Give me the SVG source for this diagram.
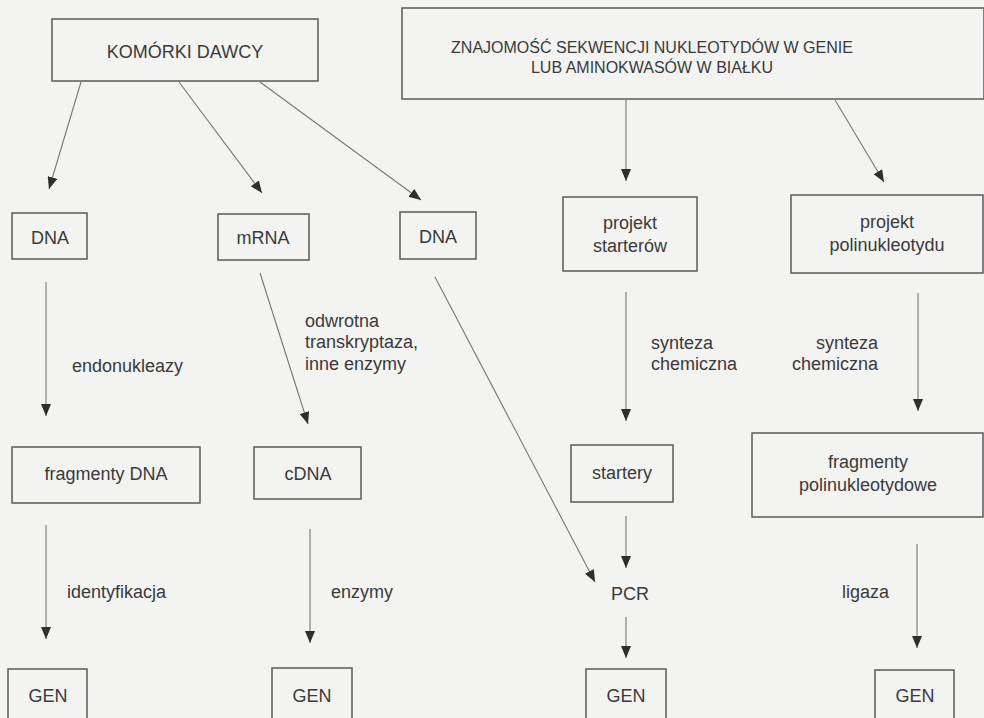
<svg xmlns="http://www.w3.org/2000/svg" width="984" height="718" viewBox="0 0 984 718">
<style>
.bg{fill:#f3f3f1}
.box{fill:none;stroke:#5a5a5a;stroke-width:1.5}
.t{font-family:"Liberation Sans",Arial,sans-serif;font-size:18px;fill:#3a3a3a}
.s16{font-size:16px}
.c{text-anchor:middle}
.e{text-anchor:end}
.ln{stroke:#777;stroke-width:1.1;fill:none;marker-end:url(#ah)}
</style>
<defs>
<marker id="ah" markerUnits="userSpaceOnUse" markerWidth="12" markerHeight="10" refX="12" refY="5" orient="auto">
<path d="M0,0 L12,5 L0,10 z" fill="#2e2e2e"/>
</marker>
</defs>
<rect class="bg" x="0" y="0" width="984" height="718"/>
<g id="connectors">
<line class="ln" x1="81" y1="82" x2="49" y2="189"/>
<line class="ln" x1="179" y1="82" x2="262" y2="193"/>
<line class="ln" x1="260" y1="82" x2="421" y2="200"/>
<line class="ln" x1="626" y1="100" x2="626" y2="181"/>
<line class="ln" x1="835" y1="100" x2="884" y2="182"/>
<line class="ln" x1="46" y1="282" x2="46" y2="416"/>
<line class="ln" x1="260" y1="273" x2="308" y2="424"/>
<line class="ln" x1="435" y1="277" x2="595" y2="582"/>
<line class="ln" x1="626" y1="292" x2="626" y2="421"/>
<line class="ln" x1="918" y1="293" x2="918" y2="411"/>
<line class="ln" x1="46" y1="525" x2="46" y2="639"/>
<line class="ln" x1="310" y1="529" x2="310" y2="643"/>
<line class="ln" x1="626" y1="516" x2="626" y2="568"/>
<line class="ln" x1="626" y1="617" x2="626" y2="658"/>
<line class="ln" x1="917" y1="544" x2="917" y2="648"/>
<text class="t" x="72" y="372">endonukleazy</text>
<text class="t" x="305" y="327">odwrotna</text>
<text class="t" x="305" y="348">transkryptaza,</text>
<text class="t" x="305" y="370">inne enzymy</text>
<text class="t" x="651" y="349">synteza</text>
<text class="t" x="651" y="370">chemiczna</text>
<text class="t e" x="878" y="349">synteza</text>
<text class="t e" x="878" y="370">chemiczna</text>
<text class="t" x="67" y="598">identyfikacja</text>
<text class="t" x="331" y="598">enzymy</text>
<text class="t" x="842" y="598">ligaza</text>
</g>
<g id="komorki">
<rect class="box" x="52" y="19" width="266" height="62"/>
<text class="t c" x="185" y="58">KOMÓRKI DAWCY</text>
</g>
<g id="znajomosc">
<rect class="box" x="402" y="8" width="582" height="91"/>
<text class="t s16 c" x="652" y="53">ZNAJOMOŚĆ SEKWENCJI NUKLEOTYDÓW W GENIE</text>
<text class="t s16 c" x="652" y="73">LUB AMINOKWASÓW W BIAŁKU</text>
</g>
<g id="dna1">
<rect class="box" x="12" y="213" width="75" height="46"/>
<text class="t c" x="50" y="244">DNA</text>
</g>
<g id="mrna">
<rect class="box" x="218" y="214" width="91" height="46"/>
<text class="t c" x="263" y="244">mRNA</text>
</g>
<g id="dna2">
<rect class="box" x="400" y="212" width="76" height="47"/>
<text class="t c" x="438" y="243">DNA</text>
</g>
<g id="projekt-starterow">
<rect class="box" x="563" y="197" width="134" height="74"/>
<text class="t c" x="630" y="229">projekt</text>
<text class="t c" x="630" y="252">starterów</text>
</g>
<g id="projekt-polinukleotydu">
<rect class="box" x="791" y="195" width="192" height="78"/>
<text class="t c" x="887" y="228">projekt</text>
<text class="t c" x="887" y="251">polinukleotydu</text>
</g>
<g id="fragmenty-dna">
<rect class="box" x="12" y="447" width="188" height="56"/>
<text class="t c" x="106" y="480">fragmenty DNA</text>
</g>
<g id="cdna">
<rect class="box" x="254" y="447" width="107" height="52"/>
<text class="t c" x="308" y="480">cDNA</text>
</g>
<g id="startery">
<rect class="box" x="571" y="445" width="102" height="57"/>
<text class="t c" x="622" y="479">startery</text>
</g>
<g id="fragmenty-poli">
<rect class="box" x="752" y="433" width="231" height="84"/>
<text class="t c" x="868" y="468">fragmenty</text>
<text class="t c" x="868" y="491">polinukleotydowe</text>
</g>
<g id="pcr">
<text class="t c" x="630" y="600">PCR</text>
</g>
<g id="gen1">
<rect class="box" x="8" y="669" width="79" height="60"/>
<text class="t c" x="48" y="702">GEN</text>
</g>
<g id="gen2">
<rect class="box" x="272" y="668" width="80" height="60"/>
<text class="t c" x="312" y="702">GEN</text>
</g>
<g id="gen3">
<rect class="box" x="586" y="669" width="80" height="60"/>
<text class="t c" x="626" y="702">GEN</text>
</g>
<g id="gen4">
<rect class="box" x="875" y="670" width="79" height="60"/>
<text class="t c" x="915" y="702">GEN</text>
</g>
</svg>
